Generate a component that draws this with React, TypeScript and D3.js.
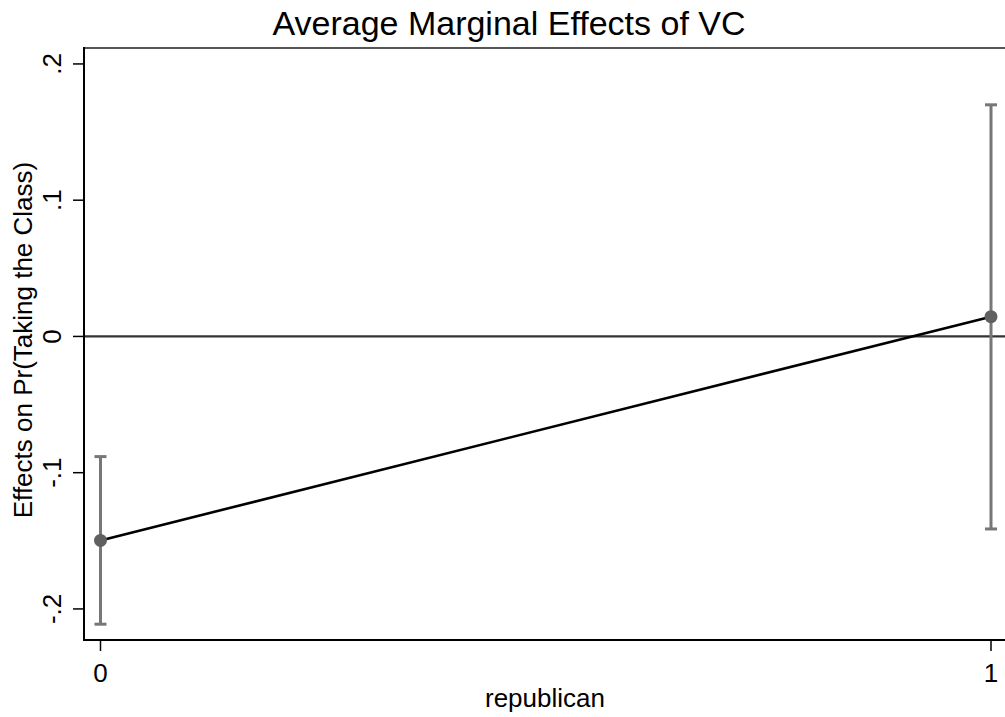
import * as d3 from 'd3';
import React from 'react';

const categories = [0, 1];
const margins = [-0.1497, 0.0145];
const ciLow = [-0.2112, -0.1413];
const ciHigh = [-0.0882, 0.1700];
const yTicks = [-0.2, -0.1, 0, 0.1, 0.2];
const yTickLabels = ['-.2', '-.1', '0', '.1', '.2'];
const xTickLabels = ['0', '1'];

const width = 1005;
const height = 717;
const left = 84;
const top = 48;
const bottom = 640;
const font = 'Liberation Sans, Arial, Helvetica, sans-serif';

const App = () => {
  const x = d3.scaleLinear().domain([0, 1]).range([100.5, 991]);
  const y = d3.scaleLinear().domain([-0.2228, 0.2117]).range([bottom, top]);

  const line = d3.line<number>()
    .x((_, i) => x(categories[i]))
    .y((d) => y(d));

  return (
    <svg width={width} height={height} style={{ position: 'absolute', left: 0, top: 0, background: '#fff' }}
      fontFamily={font}>
      <rect width={width} height={height} fill="#fff" />
      <text x={509} y={35} textAnchor="middle" fontSize={34} fill="#000">Average Marginal Effects of VC</text>

      {/* frame */}
      <line x1={left} x2={width + 10} y1={top} y2={top} stroke="#555" strokeWidth={2} />
      <line x1={left} x2={width + 10} y1={y(0)} y2={y(0)} stroke="#333" strokeWidth={2.2} />

      {/* confidence intervals */}
      {categories.map((c, i) => (
        <g key={c} stroke="#777" strokeWidth={3}>
          <line x1={x(c)} x2={x(c)} y1={y(ciLow[i])} y2={y(ciHigh[i])} />
          <line x1={x(c) - 6} x2={x(c) + 6} y1={y(ciLow[i])} y2={y(ciLow[i])} />
          <line x1={x(c) - 6} x2={x(c) + 6} y1={y(ciHigh[i])} y2={y(ciHigh[i])} />
        </g>
      ))}

      <path d={line(margins) || ''} fill="none" stroke="#000" strokeWidth={2.6} />
      {categories.map((c, i) => (
        <circle key={c} cx={x(c)} cy={y(margins[i])} r={6.5} fill="#606060" />
      ))}

      {/* axes */}
      <line x1={left} x2={left} y1={top - 1} y2={bottom + 1} stroke="#000" strokeWidth={2} />
      <line x1={left - 1} x2={width + 10} y1={bottom} y2={bottom} stroke="#000" strokeWidth={2} />

      {yTicks.map((t, i) => (
        <g key={t}>
          <line x1={left - 11} x2={left} y1={y(t)} y2={y(t)} stroke="#000" strokeWidth={1.5} />
          <text transform={`translate(61,${y(t)}) rotate(-90)`} textAnchor="middle" fontSize={26} fill="#000">
            {yTickLabels[i]}
          </text>
        </g>
      ))}
      {categories.map((c, i) => (
        <g key={c}>
          <line x1={x(c)} x2={x(c)} y1={bottom} y2={bottom + 11} stroke="#000" strokeWidth={1.5} />
          <text x={x(c)} y={682} textAnchor="middle" fontSize={26} fill="#000">{xTickLabels[i]}</text>
        </g>
      ))}

      <text x={545} y={707} textAnchor="middle" fontSize={26} fill="#000">republican</text>
      <text transform={`translate(32,340) rotate(-90)`} textAnchor="middle" fontSize={26} fill="#000">
        Effects on Pr(Taking the Class)
      </text>
    </svg>
  );
};

export default App;
